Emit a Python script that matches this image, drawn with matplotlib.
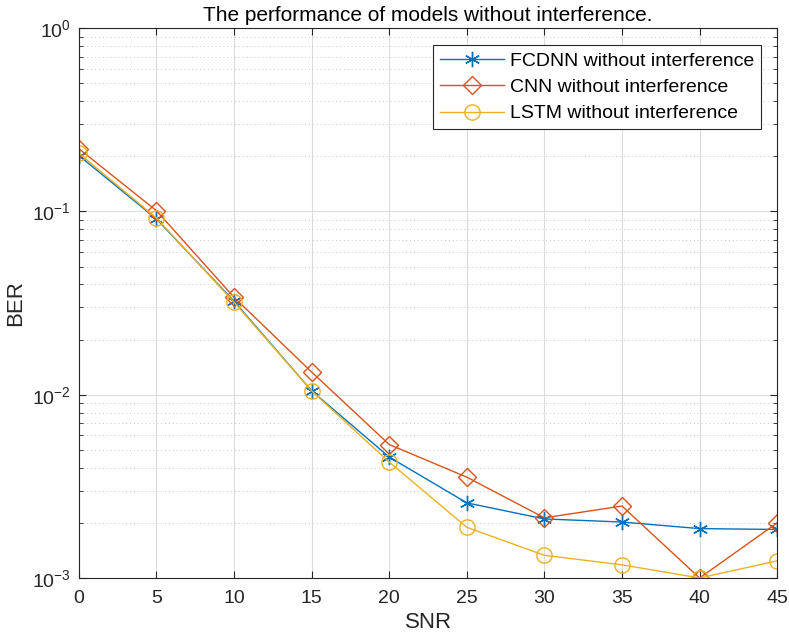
import numpy as np
import matplotlib.pyplot as plt
from matplotlib.ticker import LogLocator, NullFormatter

plt.rcParams['font.family'] = ['Liberation Sans', 'DejaVu Sans']
plt.rcParams['mathtext.fontset'] = 'custom'
plt.rcParams['mathtext.rm'] = 'Liberation Sans'
plt.rcParams['mathtext.it'] = 'Liberation Sans'
plt.rcParams['mathtext.default'] = 'regular'

snr = [0, 5, 10, 15, 20, 25, 30, 35, 40, 45]
ber_fcdnn = [0.202, 0.091, 0.0324, 0.0105, 0.00457, 0.00257, 0.0021, 0.00202, 0.00186, 0.00184]
ber_cnn = [0.220, 0.101, 0.034, 0.0133, 0.00535, 0.00355, 0.00213, 0.00247, 0.00100, 0.00200]
ber_lstm = [0.208, 0.092, 0.0320, 0.0105, 0.00429, 0.00189, 0.00133, 0.00118, 0.00100, 0.00124]

fig = plt.figure(figsize=(7.89, 6.42), dpi=100)
ax = fig.add_axes([0.100, 0.0997, 0.885, 0.8563])

ax.semilogy(snr, ber_fcdnn, '-', marker=(6, 2, 0), color='#0072BD', lw=1, ms=11, mew=1,
            label='FCDNN without interference')
ax.semilogy(snr, ber_cnn, '-D', color='#D95319', lw=1, ms=9, mew=1, mfc='none',
            label='CNN without interference')
ax.semilogy(snr, ber_lstm, '-o', color='#EDB120', lw=1, ms=11, mew=1, mfc='none',
            label='LSTM without interference')

ax.set_xlim(0, 45)
ax.set_ylim(1e-3, 1)
ax.set_xticks(range(0, 46, 5))
ax.yaxis.set_major_locator(LogLocator(base=10, numticks=10))
ax.yaxis.set_minor_locator(LogLocator(base=10, subs=np.arange(2, 10), numticks=10))
ax.yaxis.set_minor_formatter(NullFormatter())

ax.grid(True, which='major', color='#dcdcdc', lw=0.8)
ax.grid(True, which='minor', axis='y', color='#c8c8c8', lw=0.7, ls=(0, (1, 3)))
ax.set_axisbelow(True)
ax.tick_params(which='both', direction='in', top=True, right=True, labelsize=14, colors='#262626')
ax.tick_params(which='major', length=5)
ax.tick_params(which='minor', length=3)
ax.tick_params(axis='x', pad=9)
ax.tick_params(axis='y', pad=6)
for s in ax.spines.values():
    s.set_color('#262626')
    s.set_linewidth(0.8)

ax.set_xlabel('SNR', fontsize=16, color='#262626', labelpad=3)
ax.set_ylabel('BER', fontsize=16, color='#262626', labelpad=4)
ax.set_title('The performance of models without interference.', fontsize=15, color='#000000', pad=5)

leg = ax.legend(loc='upper right', bbox_to_anchor=(0.977, 0.969), fontsize=14, fancybox=False,
                edgecolor='#262626', framealpha=1, handlelength=3.3, borderpad=0.35,
                labelspacing=0.45, handletextpad=0.3, borderaxespad=0)
leg.get_frame().set_linewidth(0.8)

fig.savefig('out.png', dpi=100)
